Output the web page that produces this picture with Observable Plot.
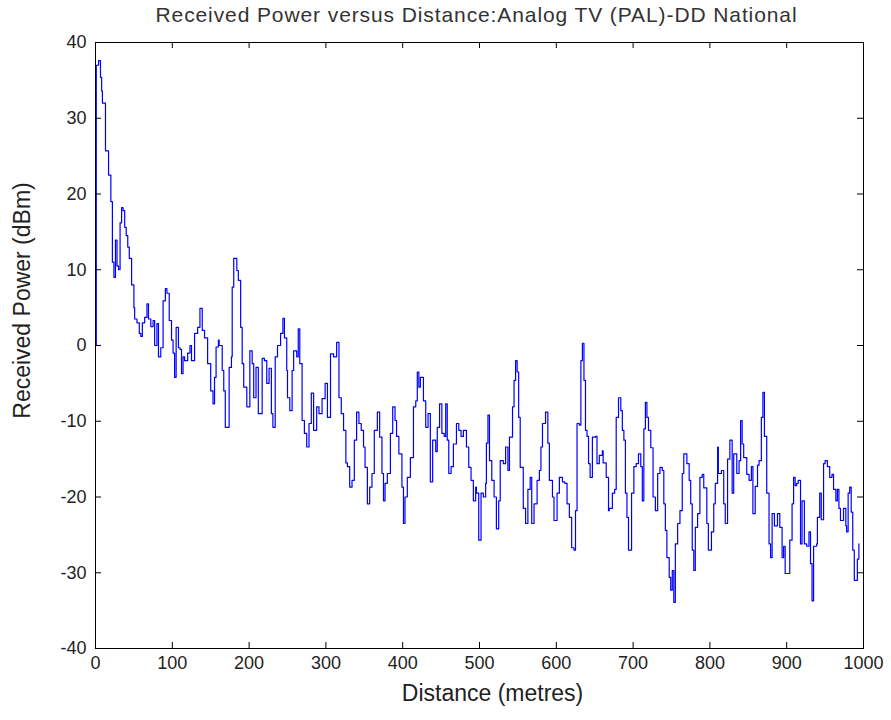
<!DOCTYPE html>
<html>
<head>
<meta charset="utf-8">
<script src="https://cdn.jsdelivr.net/npm/d3@7"></script>
<script src="https://cdn.jsdelivr.net/npm/@observablehq/plot@0.6"></script>
<style>
  body { margin: 0; background: #fff; }
  #title { width: 891px; height: 30px; line-height: 30px; text-align: center; font-family: "Liberation Sans", Arial, sans-serif; font-size: 21px; letter-spacing: 0.9px; color: #333; padding-left: 62px; box-sizing: border-box; white-space: nowrap; }
  svg { display: block; }
</style>
</head>
<body>
<div id="title">Received Power versus Distance:Analog TV (PAL)-DD National</div>
<div id="chart"></div>
<script>
const titleText = "Received Power versus Distance:Analog TV (PAL)-DD National";
const xLabel = "Distance (metres)";
const yLabel = "Received Power (dBm)";
const xTicks = [0, 100, 200, 300, 400, 500, 600, 700, 800, 900, 1000];
const yTicks = [-40, -30, -20, -10, 0, 10, 20, 30, 40];

const distance = [
  0, 1, 4, 6.5, 8, 9, 13, 17, 20, 22, 24, 26, 28, 30, 32, 34, 36, 38, 40, 42, 44, 47, 50, 51, 54, 57, 59, 61, 64, 67, 69, 72, 75, 77, 80, 82, 85, 88, 91, 93, 96, 99,
  101, 103, 105, 108, 110, 112, 114, 116, 120, 123, 125, 129, 133, 136, 139, 142, 146, 150, 153, 155, 157, 160, 161, 165, 167, 169, 171, 174, 177, 178, 180, 184, 186, 189, 191, 193, 197,
  201, 204, 206, 209, 212, 217, 220, 223, 226, 229, 231, 234, 237, 241, 244, 246, 249, 250, 253, 256, 258, 262, 264, 266, 269, 272, 275, 278, 281, 284, 288, 291, 295, 299,
  302, 306, 310, 314, 317, 320, 323, 326, 328, 331, 334, 337, 340, 343, 346, 349, 351, 354, 357, 360, 363, 367, 370, 373, 375, 377, 380, 384, 387, 390, 392, 395, 399,
  401, 403, 406, 410, 414, 417, 419, 421, 423, 427, 430, 433, 436, 439, 443, 445, 448, 451, 454, 456, 458, 460, 463, 466, 470, 473, 476, 479, 483, 486, 489, 492, 495, 496, 499,
  502, 505, 508, 509, 511, 513, 516, 519, 522, 525, 527, 531, 534, 537, 539, 543, 545, 547, 549, 551, 553, 557, 560, 563, 566, 568, 571, 575, 578, 580, 582, 586, 589, 591, 595, 597,
  601, 604, 608, 611, 614, 617, 620, 623, 625, 627, 630, 632, 634, 636, 638, 640, 642, 644, 647, 651, 653, 656, 660, 661, 665, 668, 669, 673, 676, 678, 681, 684, 686, 688, 690, 692, 694, 698,
  701, 704, 707, 710, 712, 714, 716, 718, 720, 723, 726, 729, 732, 735, 738, 740, 742, 744, 747, 749, 751, 753, 755, 758, 761, 764, 766, 770, 773, 775, 777, 779, 781, 784, 787, 790, 792, 796, 798,
  802, 805, 807, 810, 811, 815, 818, 820, 823, 826, 829, 831, 835, 838, 840, 842, 844, 848, 851, 854, 856, 859, 862, 864, 867, 869, 871, 874, 877, 879, 881, 884, 888, 891, 894, 896, 898,
  901, 904, 907, 909, 911, 913, 915, 918, 920, 923, 926, 929, 931, 933, 935, 939, 940, 943, 945, 948, 950, 953, 956, 959, 961, 964, 966, 968, 970, 974, 977, 978, 980, 982, 984, 986, 988, 990, 992, 994
];
const power = [
  0, 37, 37.6, 35.4, 33.6, 32, 25.7, 22.5, 19, 11, 9, 13.9, 10.5, 10, 16.2, 18.2, 17.8, 15.6, 14.5, 13, 11.5, 8, 5, 3.5, 3, 1.6, 1.2, 3, 3.7, 5.5, 3.5, 2.5, 3.3, 0, 2.9, -1.5, -0.3, 5.9, 7.5, 6.9, 3.3, 0.7,
  -1, -4.2, 2.4, -0.3, -0.5, -3.7, -1.5, -2, -1, 0, -2, 1.6, 2.4, 4.9, 2, 1, -2.4, -6, -7.7, -4.2, -0.2, 0.7, 0, -3.3, -6, -10.8, -10.8, -2.9, -1.5, 7.7, 11.5, 9.9, 8.6, 2.4, -2.4, -5.5, -8.1,
  -0.7, -2.4, -6.9, -2.9, -9, -1.7, -2, -5, -3, -9, -10.8, -1.5, 0, 1.6, 3.6, 1, -3.3, -6.9, -8.6, -3.3, -0.7, -1.5, 2.2, -2.4, -9.9, -11.6, -13.4, -10.3, -6.3, -11.2, -8.1, -9, -7, -5,
  -9.5, -1.1, -1.5, 0.4, -6.9, -9, -11.2, -15.5, -16, -18.7, -17.8, -12.5, -8.8, -10.3, -11.2, -13.4, -16.1, -20.9, -18.7, -16.9, -11.2, -8.8, -12.1, -16.9, -20.5, -18.2, -16.9, -11.6, -8.1, -9.9, -12, -14.3, -18.7,
  -23.5, -20, -17.4, -14.8, -8.1, -7.3, -3.5, -5.5, -4.2, -7.3, -10.8, -9, -18, -12.5, -14, -10.8, -7.7, -11.6, -12, -7.7, -12.5, -16.9, -16, -13, -10.3, -11.2, -12, -11.2, -13.4, -16.1, -17.8, -20.5, -18.7, -19.5, -25.7,
  -19.5, -20, -18.2, -12.9, -9.2, -15.2, -17.8, -20, -24.2, -20.5, -15.2, -15.6, -13.4, -16.5, -12.1, -8.1, -4.6, -2, -3.5, -9.5, -16.1, -21.5, -23.5, -19, -17.4, -23.5, -20.9, -17.8, -16.5, -13.4, -10.3, -8.8, -12.9, -17.8, -20, -23.1,
  -19.5, -17.4, -18, -18.2, -20.9, -22.7, -26.7, -27, -21.8, -10.3, -10.5, -2, 0.3, -4.6, -11.2, -12, -15.6, -17.4, -12.1, -12, -15.6, -14.5, -13.9, -15.5, -17.4, -21.8, -21.5, -19.5, -19, -9.5, -6.9, -8.6, -11.2, -12.5, -19.5, -22.7, -27, -19.5,
  -16, -15.6, -14.3, -16, -20.5, -11, -7.5, -9.5, -11.2, -13.5, -20, -21.8, -16.9, -16.1, -16.5, -20.9, -24.4, -28, -30.6, -32.3, -29.7, -33.9, -26.2, -23.5, -21.8, -16.9, -14.3, -15.6, -17.8, -20.9, -27, -29.7, -24, -22.2, -17.4, -17, -18.8, -23.5, -27,
  -24.6, -20.9, -18.2, -13.4, -16.9, -16.5, -20.9, -23.5, -15, -12.5, -19.5, -14.3, -16.9, -15.2, -9.9, -13, -14.8, -17, -17.8, -16, -22.2, -18.6, -15.8, -15.2, -9.5, -6.2, -12, -19.5, -26.2, -28, -22.2, -23.8, -22.2, -24, -28, -26.5, -30.1,
  -30.1, -25.7, -20.9, -17.4, -18.5, -18.2, -17.8, -26.2, -20.5, -26.2, -26.5, -24.6, -28.8, -33.7, -26.5, -26.2, -22.7, -19.5, -23, -15.6, -15.2, -16, -17.4, -17, -19, -20.5, -19, -21.5, -23.1, -21.5, -23.8, -24.6, -19.5, -18.7, -22, -27, -31, -31, -28.2, -26.2
];

const data = distance.map((d, i) => ({distance: d, power: power[i]}));

const font = '"Liberation Sans", Arial, sans-serif';
const plotW = 891 - 95 - 28;
const plotH = 690 - 12 - 72;

const chart = Plot.plot({
  width: 891,
  height: 690,
  marginLeft: 95,
  marginRight: 28,
  marginTop: 12,
  marginBottom: 72,
  style: {fontFamily: font, background: "#fff", overflow: "visible"},
  x: {domain: [0, 1000], ticks: xTicks},
  y: {domain: [-40, 40], ticks: yTicks},
  marks: [
    Plot.line(data, {x: "distance", y: "power", stroke: "#0000ff", strokeWidth: 1.2, curve: "step-after"}),
    Plot.tickX(xTicks, {x: d => d, insetTop: plotH - 6, stroke: "#000", strokeWidth: 1}),
    Plot.tickX(xTicks, {x: d => d, insetBottom: plotH - 6, stroke: "#000", strokeWidth: 1}),
    Plot.tickY(yTicks, {y: d => d, insetRight: plotW - 6, stroke: "#000", strokeWidth: 1}),
    Plot.tickY(yTicks, {y: d => d, insetLeft: plotW - 6, stroke: "#000", strokeWidth: 1}),
    Plot.frame({stroke: "#000", strokeWidth: 1}),
    Plot.axisX({ticks: xTicks, tickSize: 0, tickPadding: 8, fontSize: 18, fill: "#222", label: null, tickFormat: d => String(d)}),
    Plot.axisY({ticks: yTicks, tickSize: 0, tickPadding: 9, fontSize: 18, fill: "#222", label: null, tickFormat: d => String(d)}),
    Plot.text([xLabel], {text: d => d, frameAnchor: "bottom", dx: 13, dy: 52, fontSize: 23, fill: "#222", fontFamily: font}),
    Plot.text([yLabel], {text: d => d, frameAnchor: "left", textAnchor: "middle", dx: -73, dy: -45, rotate: -90, fontSize: 23, fill: "#222", fontFamily: font})
  ]
});
document.getElementById("chart").appendChild(chart);
</script>
</body>
</html>
